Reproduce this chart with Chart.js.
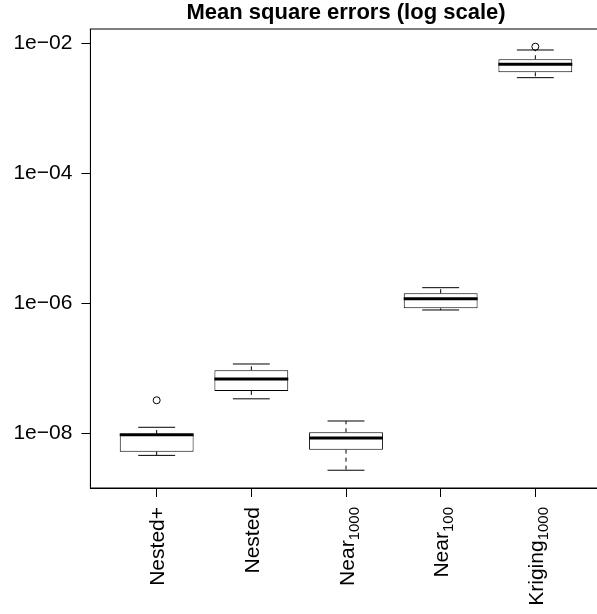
<!DOCTYPE html>
<html>
<head>
<meta charset="utf-8">
<title>Mean square errors (log scale)</title>
<script src="https://cdn.jsdelivr.net/npm/chart.js@4"></script>
<style>
  html, body { margin: 0; padding: 0; background: #fff; overflow: hidden; }
  #wrap { width: 620px; height: 614px; }
</style>
</head>
<body>
<div id="wrap"><canvas id="mse" width="620" height="614"></canvas></div>
<script>
// methods on the x axis; the subscript part is drawn smaller and lowered
const methods = ['Nested+', 'Nested', 'Near', 'Near', 'Kriging'];
const methodSubs = ['', '', '1000', '100', '1000'];

// boxplot statistics per method (mean square error)
const whiskerLow    = [4.57e-9, 3.39e-8, 2.70e-9, 7.89e-7, 2.96e-3];
const lowerQuartile = [5.21e-9, 4.48e-8, 5.60e-9, 8.38e-7, 3.58e-3];
const medians       = [9.5e-9, 6.84e-8, 8.47e-9, 1.178e-6, 4.75e-3];
const upperQuartile = [9.75e-9, 9.31e-8, 1.035e-8, 1.426e-6, 5.68e-3];
const whiskerHigh   = [1.236e-8, 1.164e-7, 1.545e-8, 1.738e-6, 7.89e-3];

// points beyond the whiskers
const outlierMethod = [0, 4];
const outlierValue  = [3.22e-8, 8.87e-3];

const yTickValues = [1e-8, 1e-6, 1e-4, 1e-2];
const yTickLabels = ['1e\u221208', '1e\u221206', '1e\u221204', '1e\u221202'];

const FONT = '"Liberation Sans", Arial, Helvetica, sans-serif';
Chart.defaults.font.family = FONT;
Chart.defaults.color = '#000';

// whiskers, staples, medians, frame and the rotated method names
const boxParts = {
  id: 'boxParts',
  afterDatasetsDraw(chart) {
    const { ctx, chartArea } = chart;
    const x = chart.scales.x;
    const y = chart.scales.y;
    const boxes = chart.getDatasetMeta(0).data;
    ctx.save();
    ctx.strokeStyle = '#000';
    methods.forEach((m, i) => {
      const cx = x.getPixelForValue(i);
      const half = boxes[i].width / 2;
      const yHi = y.getPixelForValue(whiskerHigh[i]);
      const yLo = y.getPixelForValue(whiskerLow[i]);

      ctx.lineWidth = 1;
      ctx.setLineDash([4, 4]);
      ctx.beginPath();
      ctx.moveTo(cx, y.getPixelForValue(upperQuartile[i]));
      ctx.lineTo(cx, yHi);
      ctx.moveTo(cx, y.getPixelForValue(lowerQuartile[i]));
      ctx.lineTo(cx, yLo);
      ctx.stroke();

      ctx.setLineDash([]);
      ctx.beginPath();
      ctx.moveTo(cx - half / 2, yHi);
      ctx.lineTo(cx + half / 2, yHi);
      ctx.moveTo(cx - half / 2, yLo);
      ctx.lineTo(cx + half / 2, yLo);
      ctx.stroke();

      const yMed = y.getPixelForValue(medians[i]);
      ctx.lineWidth = 3;
      ctx.beginPath();
      ctx.moveTo(cx - half, yMed);
      ctx.lineTo(cx + half, yMed);
      ctx.stroke();
    });

    ctx.lineWidth = 1;
    ctx.strokeRect(chartArea.left, chartArea.top, chartArea.width, chartArea.height);
    ctx.restore();
  },
  afterDraw(chart) {
    const { ctx } = chart;
    const x = chart.scales.x;
    const mainSize = 21;
    const subSize = 15;
    ctx.save();
    ctx.fillStyle = '#000';
    ctx.textBaseline = 'alphabetic';
    methods.forEach((m, i) => {
      const cx = x.getPixelForValue(i);
      ctx.font = mainSize + 'px ' + FONT;
      const wMain = ctx.measureText(m).width;
      ctx.font = subSize + 'px ' + FONT;
      const wSub = methodSubs[i] ? ctx.measureText(methodSubs[i]).width : 0;
      ctx.save();
      ctx.translate(cx, x.top + 19);
      ctx.rotate(-Math.PI / 2);
      const base = mainSize * 0.716 / 2;
      ctx.textAlign = 'left';
      ctx.font = mainSize + 'px ' + FONT;
      ctx.fillText(m, -(wMain + wSub), base);
      if (methodSubs[i]) {
        ctx.font = subSize + 'px ' + FONT;
        ctx.fillText(methodSubs[i], -wSub, base + 5);
      }
      ctx.restore();
    });
    ctx.restore();
  }
};

new Chart(document.getElementById('mse'), {
  data: {
    datasets: [
      {
        type: 'bar',
        data: methods.map((m, i) => ({ x: i, y: [lowerQuartile[i], upperQuartile[i]] })),
        backgroundColor: '#fff',
        borderColor: '#000',
        borderWidth: 1,
        borderSkipped: false,
        categoryPercentage: 1,
        barPercentage: 0.78
      },
      {
        type: 'scatter',
        data: outlierMethod.map((m, k) => ({ x: m, y: outlierValue[k] })),
        pointRadius: 3.5,
        pointBackgroundColor: '#fff',
        pointBorderColor: '#000',
        pointBorderWidth: 1
      }
    ]
  },
  options: {
    responsive: false,
    animation: false,
    events: [],
    layout: { padding: { left: 0, right: 18.4, top: 0, bottom: 0 } },
    plugins: {
      legend: { display: false },
      tooltip: { enabled: false },
      title: {
        display: true,
        text: 'Mean square errors (log scale)',
        fullSize: false,
        color: '#000',
        font: { size: 22, weight: 'bold' },
        padding: { top: 0, bottom: 2.6 }
      }
    },
    scales: {
      x: {
        type: 'linear',
        offset: false,
        min: -0.7,
        max: 4.7,
        afterBuildTicks: (scale) => { scale.ticks = methods.map((m, i) => ({ value: i })); },
        afterFit: (scale) => { scale.height = 126; },
        grid: { drawOnChartArea: false, tickLength: 9, tickColor: '#000', offset: false },
        border: { display: true, color: '#000', width: 1 },
        ticks: { display: false }
      },
      y: {
        type: 'logarithmic',
        min: Math.pow(10, -8.842),
        max: Math.pow(10, -1.78),
        afterBuildTicks: (scale) => { scale.ticks = yTickValues.map(v => ({ value: v })); },
        afterFit: (scale) => { scale.width = 90.4; },
        grid: { drawOnChartArea: false, tickLength: 9, tickColor: '#000' },
        border: { display: true, color: '#000', width: 1 },
        ticks: {
          padding: 9,
          color: '#000',
          font: { size: 21 },
          callback: (value) => yTickLabels[yTickValues.indexOf(value)] ?? ''
        }
      }
    }
  },
  plugins: [boxParts]
});
</script>
</body>
</html>
